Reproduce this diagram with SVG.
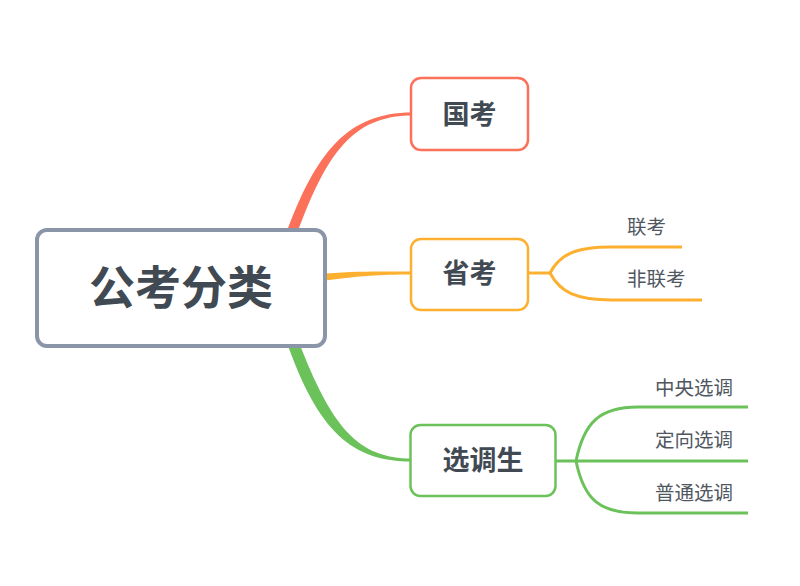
<svg xmlns="http://www.w3.org/2000/svg" width="800" height="586" viewBox="0 0 800 586">
<style>
.node{fill:#fff;}
.lbl{font-family:"Noto Sans CJK SC","Noto Sans",sans-serif;font-weight:bold;fill:#414a53;text-anchor:middle;}
.sub{font-family:"Noto Sans CJK SC","Noto Sans",sans-serif;font-size:19.5px;fill:#50575f;}
.br{fill:none;stroke-width:3;}
</style>
<rect width="800" height="586" fill="#fff"/>
<g id="connectors">
<path d="M286 234 C316 152 348 112.5 412 112.5 L412 115.5 C352 115.5 326 155 297 234 Z" fill="#fc7159"/>
<path d="M325 273.5 C360 271 380 271.5 412 271.5 L412 274.5 C380 274.5 360 276 325 280.5 Z" fill="#fdb02f"/>
<path d="M286 340 C318 432 352 461.5 412 461.5 L412 458.5 C358 458.5 332 428 298 340 Z" fill="#6cc25a"/>
<g stroke="#fdb02f" class="br">
<path d="M529 273 L550 273"/>
<path d="M550 273 C560 254 576 247 612 247 L682 247"/>
<path d="M550 273 C560 292 576 300 612 300 L702 300"/>
</g>
<g stroke="#6cc25a" class="br">
<path d="M556 461 L748 461"/>
<path d="M576 461 C584 422 600 407 638 407 L748 407"/>
<path d="M576 461 C584 500 600 513 638 513 L748 513"/>
</g>
</g>
<g id="root">
<rect x="37" y="230" width="288" height="116" rx="10" class="node" stroke="#8a96a8" stroke-width="4"/>
<text x="181" y="304" class="lbl" font-size="46">公考分类</text>
</g>
<g id="guokao">
<rect x="411" y="78" width="117" height="72" rx="10" class="node" stroke="#fc7159" stroke-width="2.5"/>
<text x="469.5" y="124" class="lbl" font-size="27">国考</text>
</g>
<g id="shengkao">
<rect x="411" y="239" width="117" height="71" rx="10" class="node" stroke="#fdb02f" stroke-width="2.5"/>
<text x="469.5" y="283" class="lbl" font-size="27">省考</text>
</g>
<g id="xuandiaosheng">
<rect x="410.5" y="425" width="145" height="71" rx="10" class="node" stroke="#6cc25a" stroke-width="2.5"/>
<text x="483" y="470" class="lbl" font-size="27">选调生</text>
</g>
<g id="liankao"><text x="627" y="233.5" class="sub">联考</text></g>
<g id="feiliankao"><text x="627" y="285.5" class="sub">非联考</text></g>
<g id="zhongyang"><text x="655" y="394.5" class="sub">中央选调</text></g>
<g id="dingxiang"><text x="655" y="446.5" class="sub">定向选调</text></g>
<g id="putong"><text x="655" y="499.5" class="sub">普通选调</text></g>
</svg>
